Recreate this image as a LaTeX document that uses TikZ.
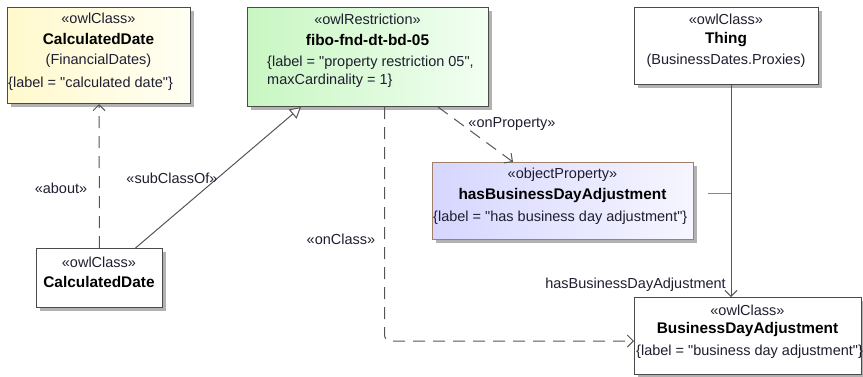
\documentclass[tikz,border=0pt]{standalone}
\usepackage{fontspec}
\setmainfont{Liberation Sans}[Ligatures=TeXOff]
\usetikzlibrary{arrows.meta,shadows,calc}
\definecolor{boxline}{HTML}{4A4A4A}
\definecolor{propline}{HTML}{A08068}
\definecolor{conn}{HTML}{555555}
\definecolor{txt}{HTML}{1E1E30}
\definecolor{yelL}{HTML}{FFF9CC}
\definecolor{yelR}{HTML}{FFFFF4}
\definecolor{grnL}{HTML}{C8F6C2}
\definecolor{grnR}{HTML}{F2FFF2}
\definecolor{lavL}{HTML}{D6D6FF}
\definecolor{lavR}{HTML}{F6F6FF}
\begin{document}
\begin{tikzpicture}[x=1pt,y=-1pt,
  umlbox/.style={draw=boxline, line width=1pt, inner sep=0pt, anchor=north west,
    drop shadow={shadow xshift=3pt,shadow yshift=-3pt,fill=black!30,opacity=1}},
  stereo/.style={inner sep=0pt, text=txt, font=\fontsize{14.5}{17}\selectfont},
  bname/.style={inner sep=0pt, text=black, font=\fontsize{15.4}{18}\selectfont\bfseries},
  plain/.style={inner sep=0pt, text=txt, font=\fontsize{14.5}{17}\selectfont},
  lbl/.style={inner sep=0pt, text=txt, font=\fontsize{14.5}{17}\selectfont},
  dep/.style={draw=conn, line width=1pt, dash pattern=on 12pt off 8pt,
    -{Straight Barb[length=6pt,width=12pt,line width=1pt]}},
  gen/.style={draw=conn, line width=1pt,
    -{Triangle[open,length=11pt,width=12pt,fill=white,line width=1pt]}},
  assoc/.style={draw=conn, line width=1pt,
    -{Straight Barb[length=6pt,width=12pt,line width=1pt]}}
]
\useasboundingbox (0,0) rectangle (863,376);

% boxes
\node[umlbox, left color=yelL, right color=yelR, minimum width=183pt, minimum height=96pt] (b1) at (7,7) {};
\node[umlbox, left color=grnL, right color=grnR, minimum width=241pt, minimum height=99pt] (b2) at (247,7) {};
\node[umlbox, fill=white, minimum width=184pt, minimum height=77pt] (b3) at (634,7) {};
\node[umlbox, draw=propline, left color=lavL, right color=lavR, minimum width=261pt, minimum height=77pt] (b4) at (432,162) {};
\node[umlbox, fill=white, minimum width=126pt, minimum height=59pt] (b5) at (36,248) {};
\node[umlbox, fill=white, minimum width=227pt, minimum height=77pt] (b6) at (634,297) {};

% texts box 1
\node[stereo] (b1s) at (98.5,18) {«owlClass»};
\node[bname] (b1n) at (98.5,39) {CalculatedDate};
\node[plain] (b1p) at (98.5,61) {(FinancialDates)};
\node[plain, anchor=west] (b1l) at (8,84) {\{label = "calculated date"\}};

% texts box 2
\node[stereo] (b2s) at (367.5,19) {«owlRestriction»};
\node[bname] (b2n) at (367.5,40) {fibo-fnd-dt-bd-05};
\node[plain, anchor=west] (b2l) at (267,63) {\{label = "property restriction 05",};
\node[plain, anchor=west] (b2m) at (267,81) {maxCardinality = 1\}};

% texts box 3
\node[stereo] (b3s) at (726,19) {«owlClass»};
\node[bname] (b3n) at (726,40) {Thing};
\node[plain] (b3p) at (726,61) {(BusinessDates.Proxies)};

% texts box 4
\node[stereo] (b4s) at (562.5,175) {«objectProperty»};
\node[bname] (b4n) at (562.5,196) {hasBusinessDayAdjustment};
\node[plain, anchor=west] (b4l) at (433,218) {\{label = "has business day adjustment"\}};

% texts box 5
\node[stereo] (b5s) at (99,262) {«owlClass»};
\node[bname] (b5n) at (99,282) {CalculatedDate};

% texts box 6
\node[stereo] (b6s) at (747.5,310) {«owlClass»};
\node[bname] (b6n) at (747.5,330) {BusinessDayAdjustment};
\node[plain, anchor=west] (b6l) at (636,352) {\{label = "business day adjustment"\}};

% connectors
\draw[dep] (b5.north) -- (b1.south);
\draw[gen] ($(b5.north)+(36,0)$) -- ($(b2.south west)+(54,0)$);
\draw[dep] ($(b2.south)+(70,0)$) -- ($(b4.north)+(-50,0)$);
\draw[dep, rounded corners=6pt] ($(b2.south)+(16.5,0)$) |- ($(b6.west)+(0,5)$);
\coordinate (av) at (731,0);
\draw[assoc] (av |- b3.south) -- (av |- b6.north);
\coordinate (tk) at (708,193);
\draw[draw=propline, line width=1pt] (tk) -- (tk -| av);

% labels
\node[lbl] (lab1) at (61,188) {«about»};
\node[lbl] (lab2) at (172,178) {«subClassOf»};
\node[lbl] (lab3) at (512,124) {«onProperty»};
\node[lbl] (lab4) at (341,239) {«onClass»};
\node[lbl, anchor=east] (lab5) at (726,285) {hasBusinessDayAdjustment};
\end{tikzpicture}
\end{document}
